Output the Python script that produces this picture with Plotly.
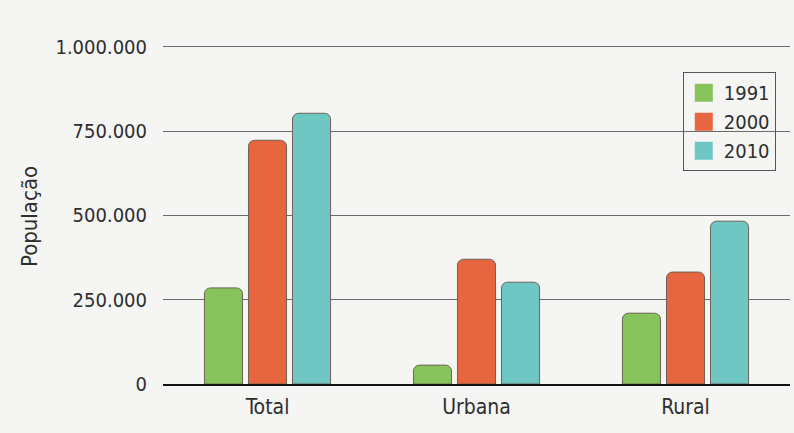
import plotly.graph_objects as go

categories = ["Total", "Urbana", "Rural"]
years = ["1991", "2000", "2010"]
values_1991 = [285000, 56000, 210000]
values_2000 = [723000, 370000, 332000]
values_2010 = [803000, 302000, 483000]
series = [values_1991, values_2000, values_2010]
colors = ["#86c35a", "#e8663f", "#6fc7c4"]
tick_vals = [0, 250000, 500000, 750000, 1000000]

FONT = "DejaVu Sans Condensed, Liberation Sans Narrow, Arial Narrow, sans-serif"
TXT = "#2e2e2e"

fig = go.Figure()
for name, vals, col in zip(years, series, colors):
    fig.add_trace(go.Bar(
        x=categories, y=vals, name=name, showlegend=False,
        marker=dict(color=col, line=dict(color="#6e6256", width=1), cornerradius=6),
    ))
for name, col in zip(years, colors):
    fig.add_trace(go.Scatter(
        x=[None], y=[None], mode="markers", name=name,
        marker=dict(symbol="square", size=16, color=col, line=dict(color=col, width=2)),
    ))

fig.update_layout(
    width=794, height=433,
    margin=dict(l=163, r=4, t=30, b=49),
    paper_bgcolor="#f5f5f3", plot_bgcolor="#f5f5f3",
    separators=",.",
    font=dict(family=FONT, size=20, color=TXT),
    barmode="group", bargap=0.368, bargroupgap=0.136,
    legend=dict(
        x=0.829, y=0.881, xanchor="left", yanchor="top",
        bordercolor="#555555", borderwidth=1, bgcolor="rgba(0,0,0,0)",
        font=dict(family=FONT, size=20, color=TXT),
        itemwidth=30,
    ),
    xaxis=dict(
        range=[-0.5, 2.5], showgrid=False, showline=True, linecolor="#111111",
        linewidth=2, ticks="", ticklabelstandoff=3,
        tickfont=dict(family=FONT, size=21, color=TXT),
    ),
    yaxis=dict(
        range=[0, 1050000], tickvals=tick_vals, tickformat=",d",
        showgrid=True, gridcolor="#6a6a6a", gridwidth=1, zeroline=False,
        ticks="", ticklabelstandoff=15,
        tickfont=dict(family=FONT, size=20, color=TXT),
    ),
    annotations=[dict(
        text="População", textangle=-90, xref="paper", yref="paper",
        x=(29 - 163) / 627, y=(384 - 217) / 354, xanchor="center", yanchor="middle",
        showarrow=False, font=dict(family=FONT, size=22, color=TXT),
    )],
)

fig.write_html("out.html")
